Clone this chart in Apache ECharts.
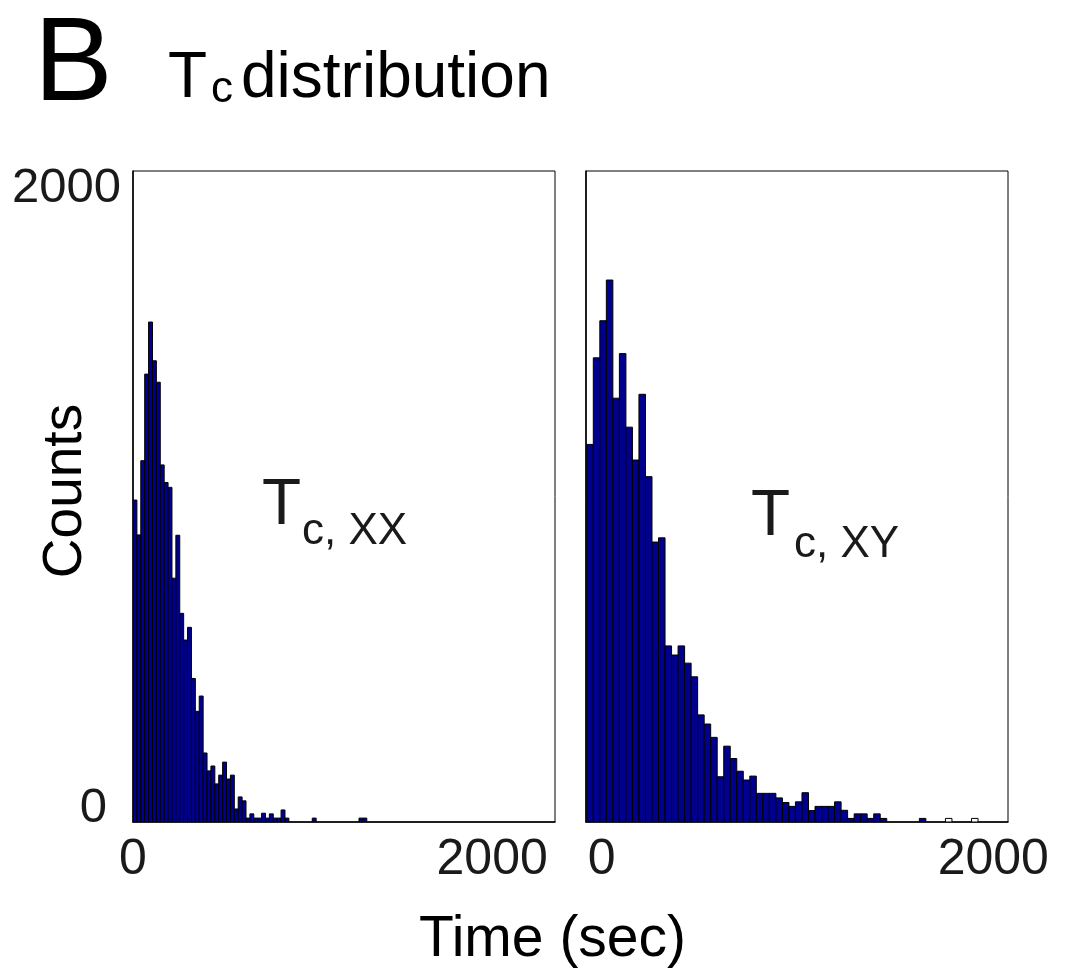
<!DOCTYPE html>
<html><head><meta charset="utf-8">
<script src="https://cdn.jsdelivr.net/npm/echarts@6/dist/echarts.min.js"></script>
<style>html,body{margin:0;padding:0;background:#fff}#c{width:1076px;height:975px}</style>
</head><body><div id="c"></div>
<script>
// ---- data ----
const leftBinStart = 0;
const leftBinWidth = 21.7;
const leftCounts = [989, 882, 1110, 1376, 1536, 1417, 1351, 1097, 1043, 1028,
  749, 881, 641, 559, 598, 441, 340, 387, 212, 157,
  172, 117, 144, 184, 132, 144, 40, 77, 65, 12,
  25, 12, 12, 27, 12, 25, 12, 12, 37, 12,
  0, 0, 0, 0, 0, 0, 12, 0, 0, 0,
  0, 0, 0, 0, 0, 0, 0, 0, 12, 12];
const rightBinStart = -76;
const rightBinWidth = 33.3;
const rightCounts = [1160, 1426, 1540, 1665, 1302, 1439, 1213, 1112, 1314, 1061,
  860, 873, 541, 513, 541, 488, 446, 329, 301, 260,
  139, 233, 195, 156, 129, 141, 88, 88, 88, 74,
  60, 48, 62, 90, 35, 48, 48, 48, 62, 36,
  11, 25, 25, 11, 25, 11, 0, 0, 0, 0,
  0, 11, 0, 0, 0, 0, 0, 0, 0, 0];
const rightOpenCounts = [0,0,0,0,0,0,0,0,0,0, 0,0,0,0,0,0,0,0,0,0,
  0,0,0,0,0,0,0,0,0,0, 0,0,0,0,0,0,0,0,0,0,
  0,0,0,0,0,0,0,0,0,0, 0,0,0,0,0,11,0,0,0,11];
const xTickValues = [0, 2000];
const yTickValues = [0, 2000];
const leftRange = [0, 2350];
const rightRange = [-80, 2075];
const yRange = [0, 2000];
const panelSubs = ['c, XX', 'c, XY'];
const xAxisTitle = 'Time (sec)';
const yAxisTitle = 'Counts';
const panelLetter = 'B';
const titleMain = 'T';
const titleSub = 'c';
const titleRest = 'distribution';

// ---- chart ----
const FONT = "'Liberation Sans', Arial, sans-serif";
const TXT = '#1a1a1a';
function bins(start, width, counts) {
  return counts.map((c, i) => [start + i * width, start + (i + 1) * width, c]).filter(d => d[2] > 0);
}
function renderBin(fill) {
  return function (params, api) {
    const p0 = api.coord([api.value(0), api.value(2)]);
    const p1 = api.coord([api.value(1), 0]);
    return {
      type: 'rect',
      shape: { x: p0[0], y: p0[1], width: p1[0] - p0[0], height: p1[1] - p0[1] },
      style: { fill: fill, stroke: '#000', lineWidth: 1 }
    };
  };
}
const chart = echarts.init(document.getElementById('c'), null, { renderer: 'canvas' });
const xAxisCommon = {
  type: 'value',
  axisLine: { show: true, onZero: false, lineStyle: { color: '#000', width: 1.5 } },
  axisTick: { show: false },
  splitLine: { show: false },
  axisLabel: { customValues: xTickValues, fontSize: 50, color: TXT, fontFamily: FONT, margin: 13,
    formatter: v => String(v) }
};
const yLabelRich = {
  t: { fontSize: 49, color: TXT, fontFamily: FONT, padding: [34, 0, 0, 0] },
  b: { fontSize: 49, color: TXT, fontFamily: FONT, padding: [0, 14, 28, 0] }
};
const gridCommon = { top: 171, width: 422, height: 651, show: true, borderColor: '#000', borderWidth: 1,
  backgroundColor: 'transparent', containLabel: false, outerBoundsMode: 'none' };
chart.setOption({
  animation: false,
  backgroundColor: '#fff',
  grid: [
    Object.assign({ left: 133 }, gridCommon),
    Object.assign({ left: 586 }, gridCommon)
  ],
  xAxis: [
    Object.assign({}, xAxisCommon, { gridIndex: 0, min: leftRange[0], max: leftRange[1] }),
    Object.assign({}, xAxisCommon, { gridIndex: 1, min: rightRange[0], max: rightRange[1] })
  ],
  yAxis: [
    { type: 'value', gridIndex: 0, min: yRange[0], max: yRange[1],
      axisLine: { show: true, onZero: false, lineStyle: { color: '#000', width: 1.5 } },
      axisTick: { show: false }, splitLine: { show: false },
      axisLabel: { customValues: yTickValues, margin: 12,
        formatter: v => v === yRange[1] ? '{t|' + v + '}' : '{b|' + v + '}', rich: yLabelRich } },
    { type: 'value', gridIndex: 1, min: yRange[0], max: yRange[1],
      axisLine: { show: true, onZero: false, lineStyle: { color: '#000', width: 1.5 } },
      axisTick: { show: false }, splitLine: { show: false }, axisLabel: { show: false } }
  ],
  series: [
    { type: 'custom', xAxisIndex: 0, yAxisIndex: 0, renderItem: renderBin('#00008c'),
      encode: { x: [0, 1], y: 2 }, data: bins(leftBinStart, leftBinWidth, leftCounts), clip: true },
    { type: 'custom', xAxisIndex: 1, yAxisIndex: 1, renderItem: renderBin('#00008c'),
      encode: { x: [0, 1], y: 2 }, data: bins(rightBinStart, rightBinWidth, rightCounts), clip: true },
    { type: 'custom', xAxisIndex: 1, yAxisIndex: 1, renderItem: renderBin('#ffffff'),
      encode: { x: [0, 1], y: 2 }, data: bins(rightBinStart, rightBinWidth, rightOpenCounts), clip: true }
  ],
  graphic: [
    { type: 'text', left: 34, top: 8, style: { text: panelLetter, fontSize: 118, fill: '#000', fontFamily: FONT } },
    { type: 'text', left: 168, top: 47, style: { text: titleMain, fontSize: 64, fill: '#000', fontFamily: FONT } },
    { type: 'text', left: 211, top: 68, style: { text: titleSub, fontSize: 44, fill: '#000', fontFamily: FONT } },
    { type: 'text', left: 241, top: 47, style: { text: titleRest, fontSize: 64, fill: '#000', fontFamily: FONT } },
    { type: 'text', left: 262, top: 474, style: { text: 'T', fontSize: 64, fill: TXT, fontFamily: FONT } },
    { type: 'text', left: 302, top: 510, style: { text: panelSubs[0], fontSize: 44, fill: TXT, fontFamily: FONT } },
    { type: 'text', left: 751, top: 485, style: { text: 'T', fontSize: 64, fill: TXT, fontFamily: FONT } },
    { type: 'text', left: 794, top: 523, style: { text: panelSubs[1], fontSize: 44, fill: TXT, fontFamily: FONT } },
    { type: 'text', x: 66, y: 491, rotation: Math.PI / 2,
      style: { text: yAxisTitle, fontSize: 55, fill: '#000', fontFamily: FONT, align: 'center', verticalAlign: 'middle' } },
    { type: 'text', left: 419, top: 912, style: { text: xAxisTitle, fontSize: 57, fill: '#000', fontFamily: FONT } }
  ]
});
</script></body></html>
